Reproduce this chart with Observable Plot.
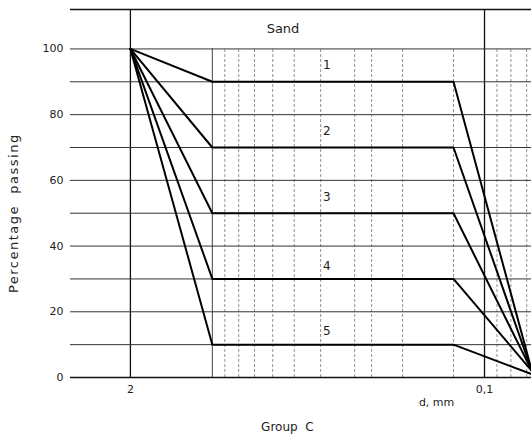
<!DOCTYPE html>
<html>
<head>
<meta charset="utf-8">
<script src="https://cdn.jsdelivr.net/npm/d3@7"></script>
<script src="https://cdn.jsdelivr.net/npm/@observablehq/plot@0.6"></script>
<style>
  html, body { margin: 0; padding: 0; background: #fff; }
  #chart svg { display: block; }
</style>
</head>
<body>
<div id="chart"></div>
<script>
// Grain-size curves (d in mm, percentage passing)
const curves = ["1", "2", "3", "4", "5"];
const dPoints = [2, 1, 0.13, 0.067];
const pass1 = [100, 90, 90, 2];
const pass2 = [100, 70, 70, 2];
const pass3 = [100, 50, 50, 2];
const pass4 = [100, 30, 30, 2];
const pass5 = [100, 10, 10, 1];
const passing = [pass1, pass2, pass3, pass4, pass5];

// curve number labels
const labelD = 0.38;
const labelY = [95, 75, 55, 34, 14];

// grid
const yGrid = [10, 20, 30, 40, 50, 60, 70, 80, 90, 100];
const yTicks = [0, 20, 40, 60, 80, 100];
const dGrid = [0.9, 0.8, 0.7, 0.6, 0.5, 0.4, 0.3, 0.26, 0.2, 0.13, 0.09, 0.08, 0.07];
const dMain = [2, 0.1];
const xTickLabels = ["2", "0,1"];

const rows = [];
curves.forEach((c, i) => dPoints.forEach((d, j) => rows.push({curve: c, d, p: passing[i][j]})));
const labels = curves.map((c, i) => ({curve: c, d: labelD, p: labelY[i]}));
const xTicks = dMain.map((d, i) => ({d, label: xTickLabels[i]}));

const font = "'DejaVu Sans', sans-serif";

const chart = Plot.plot({
  width: 531,
  height: 443,
  marginLeft: 70,
  marginRight: 0,
  marginTop: 9,
  marginBottom: 66,
  x: {type: "log", domain: [3.32, 0.0672], axis: null},
  y: {domain: [0, 112], axis: null},
  style: {fontFamily: font, fontSize: "11px", color: "#222", background: "#fff"},
  marks: [
    Plot.ruleX(dGrid, {y1: 0, y2: 100, stroke: "#777", strokeWidth: 0.8, strokeDasharray: "3,2"}),
    Plot.ruleX([1], {y1: 0, y2: 100, stroke: "#444", strokeWidth: 1}),
    Plot.ruleX(dMain, {y1: 0, y2: 112, stroke: "#111", strokeWidth: 1.3}),
    Plot.ruleY(yGrid, {stroke: "#333", strokeWidth: 1}),
    Plot.ruleY([0], {stroke: "#111", strokeWidth: 1.5}),
    Plot.ruleY([112], {stroke: "#111", strokeWidth: 1.5}),
    Plot.line(rows, {x: "d", y: "p", z: "curve", stroke: "#000", strokeWidth: 2, clip: true}),
    Plot.text(labels, {x: "d", y: "p", text: "curve", fontSize: 12, fill: "#222"}),
    Plot.text(["Sand"], {x: 0.55, y: 106, fontSize: 13, fill: "#222"}),
    Plot.text(yTicks, {y: d => d, text: d => String(d), frameAnchor: "left", dx: -7, textAnchor: "end", fontSize: 11, fill: "#222"}),
    Plot.text(xTicks, {x: "d", text: "label", frameAnchor: "bottom", dy: 15, fontSize: 11, fill: "#222"}),
    Plot.text(["Percentage  passing"], {frameAnchor: "left", y: 50, dx: -57, rotate: -90, textAnchor: "middle", fontSize: 13, fill: "#222"}),
    Plot.text(["d, mm"], {x: 0.15, frameAnchor: "bottom", dy: 28, fontSize: 11, fill: "#222"}),
    Plot.text(["Group  C"], {x: 0.53, frameAnchor: "bottom", dy: 53, fontSize: 12, fill: "#222"})
  ]
});
chart.querySelectorAll("text").forEach(t => {
  t.style.whiteSpace = "pre";
  if (t.textContent.startsWith("Percentage")) t.style.letterSpacing = "1.5px";
});
document.getElementById("chart").append(chart);
</script>
</body>
</html>
